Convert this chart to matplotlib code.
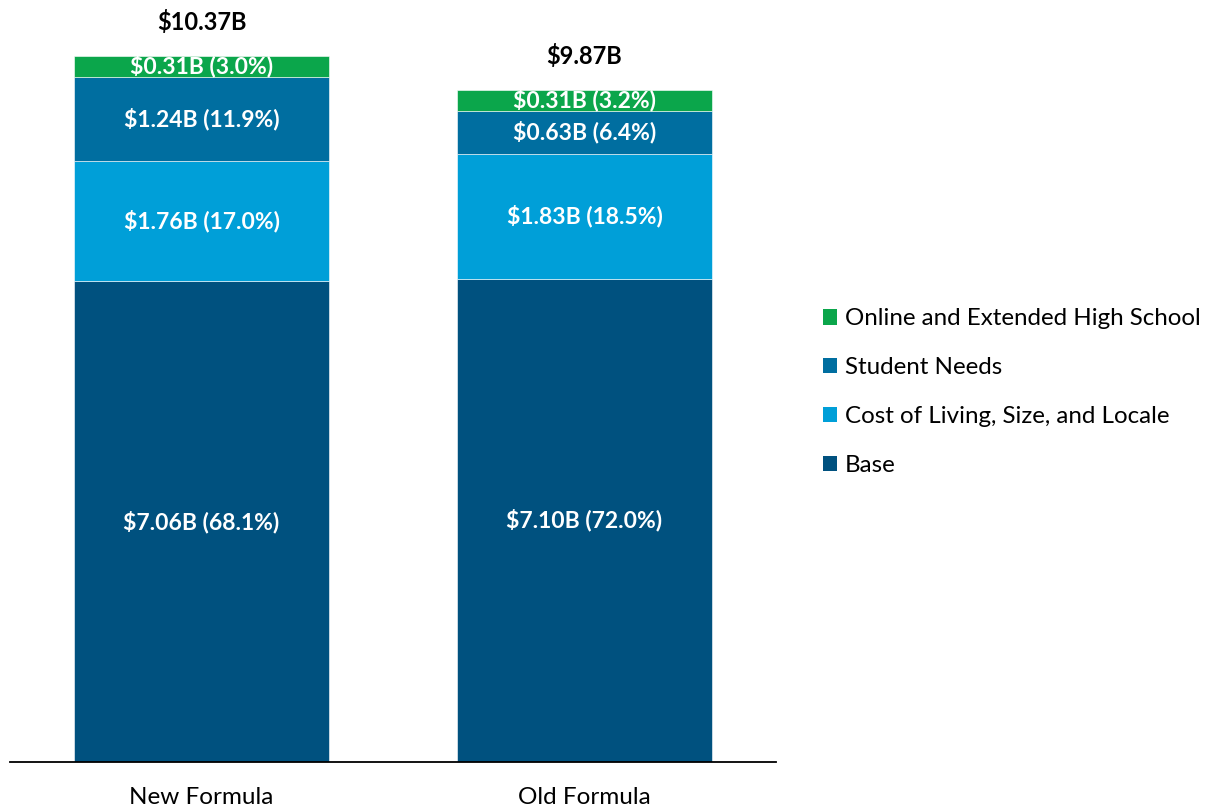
import matplotlib.pyplot as plt
from matplotlib.patches import Patch

plt.rcParams['font.family'] = ['Lato', 'DejaVu Sans']

# Data (billions of dollars)
formulas = ["New Formula", "Old Formula"]
components = ["Base", "Cost of Living, Size, and Locale", "Student Needs",
              "Online and Extended High School"]
base = [7.06, 7.10]
cost_living = [1.76, 1.83]
student_needs = [1.24, 0.63]
online = [0.31, 0.31]
base_pct = [68.1, 72.0]
cost_pct = [17.0, 18.5]
needs_pct = [11.9, 6.4]
online_pct = [3.0, 3.2]
totals = [10.37, 9.87]

colors = ["#00517F", "#009FD8", "#006EA0", "#0BA64B"]

fig = plt.figure(figsize=(12.09, 8.10), dpi=100)
ax = fig.add_axes([0.0083, 0.0593, 0.6335, 0.9247])

series = [base, cost_living, student_needs, online]
pcts = [base_pct, cost_pct, needs_pct, online_pct]
x = list(range(len(formulas)))
bottoms = [0.0, 0.0]
for vals, pc, col in zip(series, pcts, colors):
    ax.bar(x, vals, width=0.667, bottom=bottoms, color=col,
           edgecolor="white", linewidth=0.4)
    for i in x:
        ax.text(i, bottoms[i] + vals[i] / 2, f"${vals[i]:.2f}B ({pc[i]:.1f}%)",
                ha="center", va="center", color="white",
                fontsize=16.5, fontweight="bold")
    bottoms = [b + v for b, v in zip(bottoms, vals)]

for i in x:
    ax.text(i, totals[i] + 0.5, f"${totals[i]:.2f}B", ha="center",
            va="center", color="black", fontsize=17, fontweight="bold")

ax.set_xlim(-0.5, 1.5)
ax.set_ylim(0, 11)
ax.set_xticks(x)
ax.set_xticklabels(formulas, fontsize=17.5)
ax.tick_params(axis="x", length=0, pad=18)
ax.set_yticks([])
for s in ["top", "right", "left"]:
    ax.spines[s].set_visible(False)
ax.spines["bottom"].set_linewidth(1.3)

handles = [Patch(facecolor=c, label=l) for c, l in zip(colors, components)][::-1]
fig.legend(handles=handles, loc="center left", bbox_to_anchor=(0.6626, 0.516),
           frameon=False, fontsize=17.4, handlelength=0.6, handleheight=0.6,
           handletextpad=0.3, labelspacing=1.15)

fig.savefig("out.png", dpi=100)
